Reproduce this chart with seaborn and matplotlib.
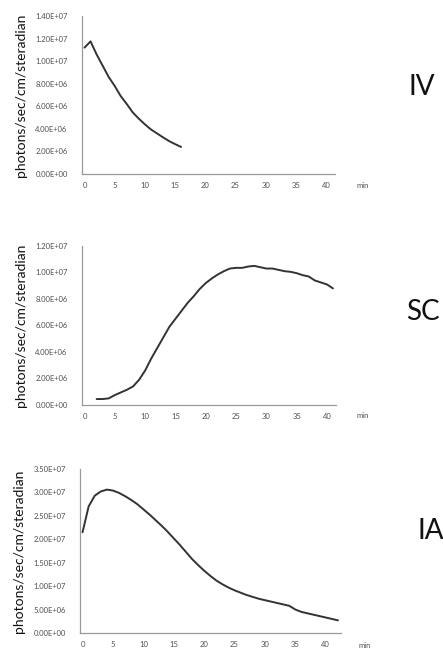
import matplotlib
matplotlib.use("Agg")
import matplotlib.pyplot as plt
import seaborn as sns
import pandas as pd
from matplotlib.ticker import FuncFormatter

# Bioluminescence signal over time for three injection routes
iv_min = list(range(0, 17))
iv_signal = [11.2e6, 11.75e6, 10.6e6, 9.6e6, 8.6e6, 7.8e6, 6.9e6, 6.2e6, 5.45e6,
             4.9e6, 4.4e6, 3.95e6, 3.6e6, 3.25e6, 2.92e6, 2.65e6, 2.4e6]

sc_min = list(range(2, 42))
sc_signal = [0.45e6, 0.45e6, 0.5e6, 0.75e6, 0.95e6, 1.15e6, 1.4e6, 1.9e6, 2.6e6,
             3.5e6, 4.3e6, 5.1e6, 5.9e6, 6.5e6, 7.1e6, 7.7e6, 8.2e6, 8.75e6, 9.2e6,
             9.55e6, 9.85e6, 10.1e6, 10.3e6, 10.35e6, 10.35e6, 10.45e6, 10.5e6,
             10.4e6, 10.3e6, 10.3e6, 10.2e6, 10.1e6, 10.05e6, 9.95e6, 9.8e6, 9.7e6,
             9.4e6, 9.25e6, 9.1e6, 8.8e6]

ia_min = list(range(0, 43))
ia_signal = [21.5e6, 27.0e6, 29.3e6, 30.2e6, 30.6e6, 30.4e6, 29.9e6, 29.2e6, 28.4e6,
             27.5e6, 26.4e6, 25.3e6, 24.1e6, 22.9e6, 21.6e6, 20.2e6, 18.8e6, 17.3e6,
             15.8e6, 14.5e6, 13.3e6, 12.2e6, 11.2e6, 10.4e6, 9.7e6, 9.1e6, 8.6e6,
             8.1e6, 7.7e6, 7.3e6, 7.0e6, 6.7e6, 6.4e6, 6.1e6, 5.8e6, 5.0e6, 4.5e6,
             4.2e6, 3.9e6, 3.6e6, 3.3e6, 3.0e6, 2.7e6]

routes = ["IV", "SC", "IA"]
y_max = [1.4e7, 1.2e7, 3.5e7]
y_step = [2e6, 2e6, 5e6]
x_ticks = [0, 5, 10, 15, 20, 25, 30, 35, 40]
y_label = "photons/sec/cm/steradian"
x_unit = "min"

sns.set_theme(style="white")
plt.rcParams["font.family"] = ["Lato", "DejaVu Sans"]

W, H = 443, 655
fig = plt.figure(figsize=(W / 100, H / 100), dpi=100)

def px_axes(left, right, top, bottom):
    return fig.add_axes([left / W, (H - bottom) / H, (right - left) / W, (bottom - top) / H])

boxes = [(81.5, 335, 16, 174), (81.5, 336, 246, 405), (79.5, 341, 469, 633)]
xmax = [41.5, 41.5, 42.5]
series = [(iv_min, iv_signal), (sc_min, sc_signal), (ia_min, ia_signal)]
route_pos = [(422, 87), (423, 312), (431, 531)]
min_pos = [(363, 185), (363, 415), (365, 646)]

sci = FuncFormatter(lambda v, _: f"{v:.2E}")

for i, route in enumerate(routes):
    ax = px_axes(*boxes[i])
    df = pd.DataFrame({"min": series[i][0], "signal": series[i][1]})
    sns.lineplot(data=df, x="min", y="signal", ax=ax, color="#333333", linewidth=1.4)
    ax.set_xlim(-0.5, xmax[i])
    ax.set_ylim(0, y_max[i])
    ax.set_xticks(x_ticks)
    n = int(round(y_max[i] / y_step[i]))
    ax.set_yticks([k * y_step[i] for k in range(n + 1)])
    ax.yaxis.set_major_formatter(sci)
    ax.tick_params(axis="both", length=0, labelsize=5.5, labelcolor="#505050")
    ax.tick_params(axis="y", pad=10)
    ax.tick_params(axis="x", pad=6)
    ax.set_xlabel("")
    ax.set_ylabel(y_label, fontsize=10, color="#111111", labelpad=6)
    ax.grid(False)
    for side in ("top", "right"):
        ax.spines[side].set_visible(False)
    for side in ("left", "bottom"):
        ax.spines[side].set_color("#9a9a9a")
        ax.spines[side].set_linewidth(0.9)
    fig.text(route_pos[i][0] / W, 1 - route_pos[i][1] / H, route,
             fontsize=20, ha="center", va="center", color="#111111")
    fig.text(min_pos[i][0] / W, 1 - min_pos[i][1] / H, x_unit,
             fontsize=5.5, ha="center", va="center", color="#505050")

fig.savefig("out.png", dpi=100, facecolor="white")
